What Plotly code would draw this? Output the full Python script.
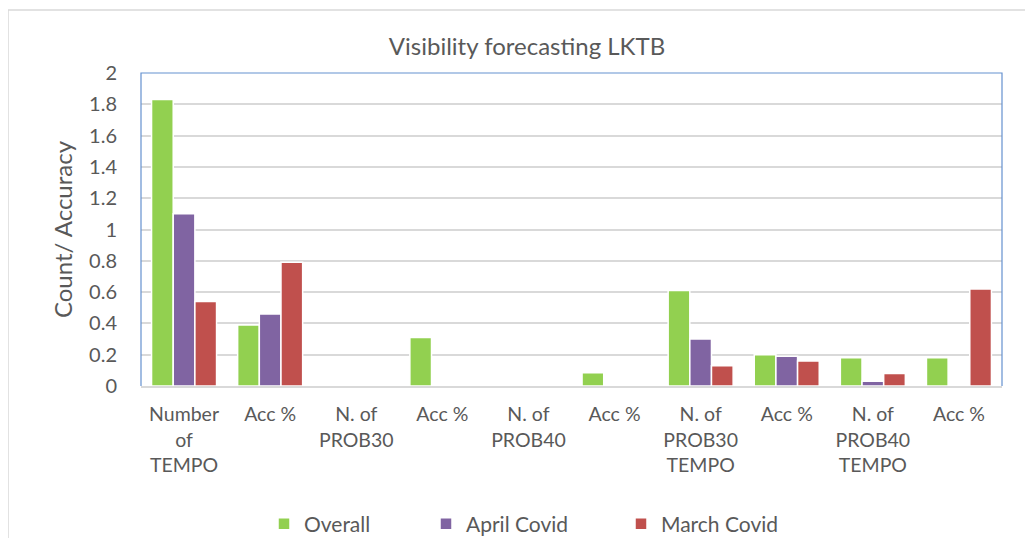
import plotly.graph_objects as go

categories = ["Number<br>of<br>TEMPO", "Acc %", "N. of<br>PROB30", "Acc %", "N. of<br>PROB40",
              "Acc %", "N. of<br>PROB30<br>TEMPO", "Acc %", "N. of<br>PROB40<br>TEMPO", "Acc %"]
overall = [1.83, 0.39, 0, 0.31, 0, 0.085, 0.61, 0.20, 0.18, 0.18]
april_covid = [1.10, 0.46, 0, 0, 0, 0, 0.30, 0.19, 0.03, 0]
march_covid = [0.54, 0.79, 0, 0, 0, 0, 0.13, 0.16, 0.08, 0.62]
y_ticks = [0, 0.2, 0.4, 0.6, 0.8, 1, 1.2, 1.4, 1.6, 1.8, 2]

FONT = "Lato"
TXT = "#595959"
OFF = 8  # page body margin
W, H = 1033 - OFF, 538 - OFF
L, R, T, B = 141 - OFF, 1002 - OFF, 73 - OFF, 386 - OFF
pw, ph = R - L, B - T

def px(x):
    return (x - OFF - L) / pw

def py(y):
    return (B - (y - OFF)) / ph

xs = list(range(len(categories)))
series = [("Overall", overall, "#92d050", "legend", 264),
          ("April Covid", april_covid, "#8064a2", "legend2", 426),
          ("March Covid", march_covid, "#c0504d", "legend3", 621)]

fig = go.Figure()
for name, vals, col, lg, _ in series:
    fig.add_trace(go.Bar(x=xs, y=vals, name=name, marker_color=col,
                         marker_line_color="white", marker_line_width=1.5,
                         legend=lg, showlegend=True))

def legend_at(xpix):
    return dict(orientation="h", x=px(xpix), xanchor="left", y=py(524), yanchor="middle",
                font=dict(family=FONT, size=21, color=TXT), bgcolor="rgba(0,0,0,0)",
                itemwidth=30)

fig.update_layout(
    width=W, height=H, showlegend=True,
    margin=dict(l=L, r=W - R, t=T, b=H - B, autoexpand=False),
    paper_bgcolor="white", plot_bgcolor="white",
    font=dict(family=FONT, color=TXT),
    title=dict(text="Visibility forecasting LKTB", xref="paper", x=px(527), xanchor="center",
               y=1 - (47 - OFF) / H, yanchor="middle", font=dict(family=FONT, size=24, color=TXT)),
    barmode="group", bargap=0.245, bargroupgap=0,
    legend=legend_at(series[0][4]), legend2=legend_at(series[1][4]), legend3=legend_at(series[2][4]),
    xaxis=dict(tickmode="array", tickvals=xs, ticktext=categories, range=[-0.5, 9.5],
               showgrid=False, showline=True, linecolor="#d9d9d9", linewidth=2,
               ticks="", tickfont=dict(family=FONT, size=19.5, color=TXT),
               ticklabelstandoff=10, zeroline=False),
    yaxis=dict(range=[0, 2], tickvals=y_ticks, showgrid=True, gridcolor="#d9d9d9", gridwidth=2,
               zeroline=False, showline=False, ticks="",
               tickfont=dict(family=FONT, size=20, color=TXT), ticklabelstandoff=23,
               title=dict(text="Count/ Accuracy", font=dict(family=FONT, size=24, color=TXT),
                          standoff=9)),
    shapes=[
        dict(type="rect", xref="paper", yref="paper", x0=px(8), x1=px(1060), y0=py(580), y1=py(10),
             line=dict(color="#d9d9d9", width=1.5), fillcolor="rgba(0,0,0,0)", layer="below"),
        dict(type="path", xref="paper", yref="paper",
             path="M 0 0 L 0 1 L 1 1 L 1 0", line=dict(color="#6591cf", width=1.2),
             layer="above"),
    ],
)

fig.write_html("out.html")
